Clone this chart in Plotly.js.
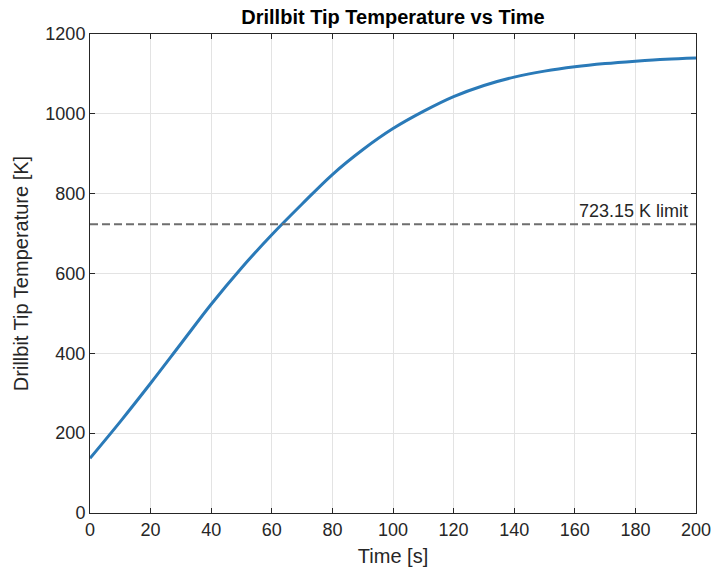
<!DOCTYPE html>
<html>
<head>
<meta charset="utf-8">
<script src="https://cdn.plot.ly/plotly-3.0.1.min.js"></script>
<style>html,body{margin:0;padding:0;background:#fff;}#chart{width:715px;height:571px;}</style>
</head>
<body>
<div id="chart"></div>
<script>
const timeS = [0, 10, 20, 30, 40, 50, 60, 70, 80, 90, 100, 110, 120, 130, 140, 150, 160, 170, 180, 190, 200];
const tempK = [137, 229, 325, 424, 523, 614, 697, 774, 848, 910, 963, 1006, 1043, 1071, 1092, 1107, 1118, 1126, 1132, 1137, 1140];
const limitK = 723.15;
const limitLabel = "723.15 K limit";
const xTicks = [0, 20, 40, 60, 80, 100, 120, 140, 160, 180, 200];
const yTicks = [0, 200, 400, 600, 800, 1000, 1200];

const font = "Liberation Sans, Arial, sans-serif";
const axisCommon = {
  showline: true, linecolor: "#262626", linewidth: 1, mirror: "ticks",
  ticks: "inside", ticklen: 5, tickcolor: "#262626", tickwidth: 1,
  showgrid: true, gridcolor: "#e3e3e3", gridwidth: 1,
  zeroline: false, tickfont: {family: font, size: 18, color: "#262626"}
};

const traces = [
  {x: timeS, y: tempK, type: "scatter", mode: "lines",
   line: {color: "#2a7ab8", width: 3, shape: "spline", smoothing: 1.0}, hoverinfo: "x+y"},
  {x: [timeS[0], timeS[timeS.length - 1]], y: [limitK, limitK], type: "scatter", mode: "lines",
   line: {color: "#6e6e6e", width: 2, dash: "8px,4px"}}
];

const layout = {
  width: 715, height: 571,
  margin: {l: 90, r: 19, t: 34, b: 58},
  paper_bgcolor: "#ffffff", plot_bgcolor: "#ffffff",
  showlegend: false,
  title: {text: "<b>Drillbit Tip Temperature vs Time</b>", xref: "paper", x: 0.5, xanchor: "center",
          yref: "container", y: 0.97, yanchor: "middle",
          font: {family: font, size: 20, color: "#000000"}},
  xaxis: Object.assign({}, axisCommon, {range: [0, 200], tickvals: xTicks, ticktext: xTicks.map(String),
          title: {text: "Time [s]", font: {family: font, size: 20, color: "#262626"}, standoff: 10}}),
  yaxis: Object.assign({}, axisCommon, {range: [0, 1200], tickvals: yTicks, ticktext: yTicks.map(String),
          title: {text: "Drillbit Tip Temperature [K]", font: {family: font, size: 20, color: "#262626"}, standoff: 11}}),
  annotations: [{x: 198, y: limitK, xref: "x", yref: "y", text: limitLabel, showarrow: false,
                 xanchor: "right", yanchor: "bottom", yshift: 1,
                 font: {family: font, size: 18, color: "#262626"}}]
};

Plotly.newPlot("chart", traces, layout, {displayModeBar: false, staticPlot: true});
</script>
</body>
</html>
